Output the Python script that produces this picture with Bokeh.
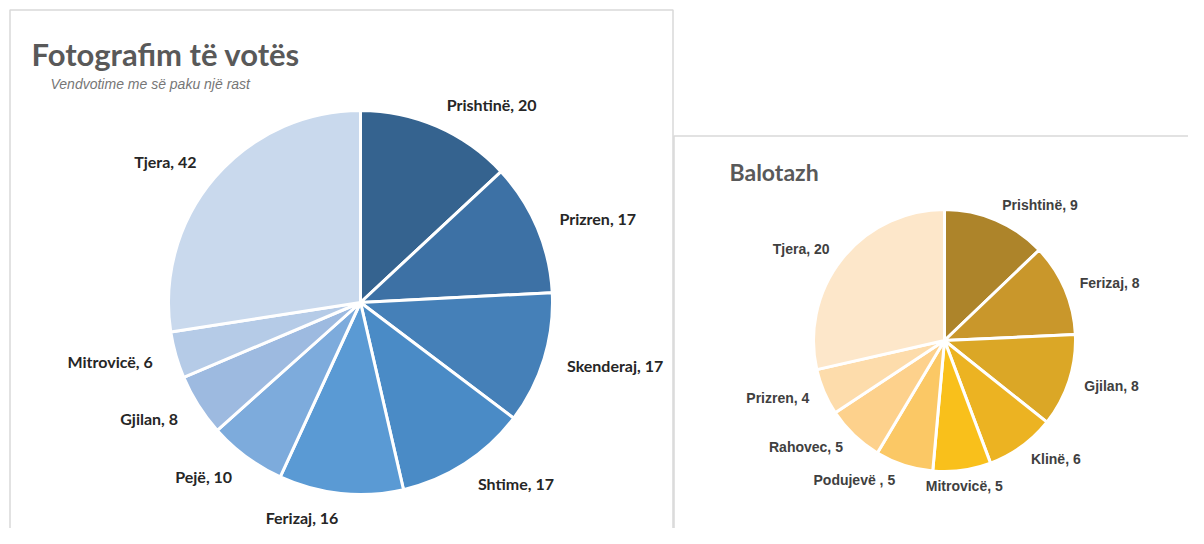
import numpy as np
from bokeh.plotting import figure
from bokeh.models import Range1d, ColumnDataSource
from bokeh.core.properties import value
from bokeh.embed import file_html
from bokeh.resources import INLINE

# ---------------- data ----------------
left_title = "Fotografim të votës"
left_subtitle = "Vendvotime me së paku një rast"
left_cats = ["Prishtinë", "Prizren", "Skenderaj", "Shtime", "Ferizaj", "Pejë", "Gjilan", "Mitrovicë", "Tjera"]
left_vals = [20, 17, 17, 17, 16, 10, 8, 6, 42]
left_colors = ["#35638f", "#3d71a5", "#4580b8", "#4a8bc6", "#5a9ad4", "#7dabdc", "#9dbae0", "#b5cbe7", "#c9d9ed"]

right_title = "Balotazh"
right_cats = ["Prishtinë", "Ferizaj", "Gjilan", "Klinë", "Mitrovicë", "Podujevë  ", "Rahovec", "Prizren", "Tjera"]
right_vals = [9, 8, 8, 6, 5, 5, 5, 4, 20]
right_colors = ["#ad842a", "#c9972b", "#dba726", "#ecb322", "#f9c01b", "#fbc865", "#fdd18c", "#fddcab", "#fde7ca"]

W, H = 1188, 528
p = figure(width=W, height=H, output_backend="svg", toolbar_location=None,
           x_range=Range1d(0, W), y_range=Range1d(544 - H, 544),
           x_axis_type=None, y_axis_type=None, min_border=0,
           outline_line_color=None, background_fill_color="white",
           border_fill_color="white")
p.grid.visible = False

def sy(y):  # screen y -> data y
    return 544 - y

# boxes
p.quad(left=9.5, right=672.5, top=sy(9.5), bottom=sy(560), fill_color="white",
       line_color="#d9d9d9", line_width=1.5)
p.quad(left=673.5, right=1220, top=sy(135.5), bottom=sy(560), fill_color="white",
       line_color="#d9d9d9", line_width=1.5)


def pie(cats, vals, colors, cx, cy, r, pad, font, size, color, weight):
    vals = np.array(vals, dtype=float)
    tot = vals.sum()
    cum = np.concatenate([[0], np.cumsum(vals)])
    th0 = cum[:-1] / tot * 2 * np.pi
    th1 = cum[1:] / tot * 2 * np.pi
    src = ColumnDataSource(dict(start=np.pi / 2 - th1, end=np.pi / 2 - th0, color=colors))
    p.wedge(x=cx, y=sy(cy), radius=r, start_angle="start", end_angle="end",
            fill_color="color", line_color="white", line_width=3, source=src)
    mid = (th0 + th1) / 2
    d = r + pad
    xs = cx + d * np.sin(mid)
    ys = sy(cy) + d * np.cos(mid)
    s = np.sin(mid)
    align = ["left" if v > 0.2 else ("right" if v < -0.05 else "center") for v in s]
    labels = [f"{c}, {int(v)}" for c, v in zip(cats, vals)]
    lsrc = ColumnDataSource(dict(x=xs, y=ys, t=labels, a=align))
    p.text(x="x", y="y", text="t", text_align="a", text_baseline="middle",
           text_font=value(font), text_font_size=size, text_font_style=weight,
           text_color=color, source=lsrc)

pie(left_cats, left_vals, left_colors, 360, 302, 192, 24, "Lato", "16px", "#262626", "bold")
pie(right_cats, right_vals, right_colors, 944, 340, 131, 16, "Liberation Sans", "14px", "#404040", "bold")

p.text(x=[31], y=[sy(53)], text=[left_title], text_baseline="middle",
       text_font=value("Lato"), text_font_size="31px",
       text_font_style="bold", text_color="#595959")
p.text(x=[50], y=[sy(83)], text=[left_subtitle], text_baseline="middle",
       text_font=value("Liberation Sans"), text_font_size="14px",
       text_font_style="italic", text_color="#767676")
p.text(x=[729], y=[sy(171)], text=[right_title], text_baseline="middle",
       text_font=value("Lato"), text_font_size="23px",
       text_font_style="bold", text_color="#595959")

open("out.html", "w").write(file_html(p, INLINE))
